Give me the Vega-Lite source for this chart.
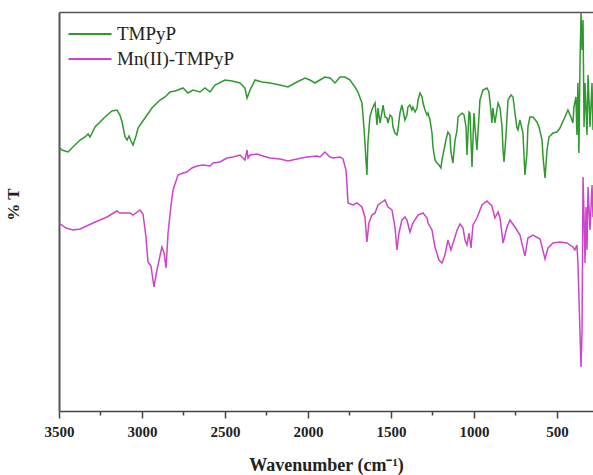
{
  "$schema": "https://vega.github.io/schema/vega-lite/v6.json",
  "width": 534,
  "height": 399,
  "autosize": {"type": "none"},
  "padding": {"left": 59, "top": 12, "right": 0, "bottom": 64},
  "background": "white",
  "config": {"view": {"stroke": null}, "font": "Liberation Serif"},
  "data": {"values": [
{"series":"TMPyP","wn":3500,"T":66},{"series":"TMPyP","wn":3482,"T":65.25},{"series":"TMPyP","wn":3446,"T":64.75},{"series":"TMPyP","wn":3410,"T":66.25},{"series":"TMPyP","wn":3373,"T":67.75},{"series":"TMPyP","wn":3343,"T":68.5},{"series":"TMPyP","wn":3325,"T":69.25},{"series":"TMPyP","wn":3313,"T":68.5},{"series":"TMPyP","wn":3283,"T":71},{"series":"TMPyP","wn":3253,"T":72.25},{"series":"TMPyP","wn":3223,"T":73.5},{"series":"TMPyP","wn":3181,"T":75},{"series":"TMPyP","wn":3151,"T":75.25},{"series":"TMPyP","wn":3133,"T":74},{"series":"TMPyP","wn":3120,"T":72.25},{"series":"TMPyP","wn":3102,"T":68.5},{"series":"TMPyP","wn":3090,"T":67.75},{"series":"TMPyP","wn":3078,"T":68.75},{"series":"TMPyP","wn":3066,"T":67.5},{"series":"TMPyP","wn":3054,"T":66.5},{"series":"TMPyP","wn":3036,"T":68.75},{"series":"TMPyP","wn":3024,"T":70.75},{"series":"TMPyP","wn":2982,"T":73.25},{"series":"TMPyP","wn":2940,"T":75.75},{"series":"TMPyP","wn":2916,"T":76.75},{"series":"TMPyP","wn":2892,"T":77.75},{"series":"TMPyP","wn":2861,"T":78.5},{"series":"TMPyP","wn":2831,"T":79.75},{"series":"TMPyP","wn":2801,"T":80},{"series":"TMPyP","wn":2783,"T":80.25},{"series":"TMPyP","wn":2753,"T":80.75},{"series":"TMPyP","wn":2723,"T":79.5},{"series":"TMPyP","wn":2693,"T":80.25},{"series":"TMPyP","wn":2651,"T":79.75},{"series":"TMPyP","wn":2620,"T":80.75},{"series":"TMPyP","wn":2590,"T":79.75},{"series":"TMPyP","wn":2560,"T":81.5},{"series":"TMPyP","wn":2500,"T":82.75},{"series":"TMPyP","wn":2458,"T":82.5},{"series":"TMPyP","wn":2410,"T":82},{"series":"TMPyP","wn":2380,"T":80.75},{"series":"TMPyP","wn":2367,"T":78.25},{"series":"TMPyP","wn":2349,"T":80.25},{"series":"TMPyP","wn":2319,"T":82.75},{"series":"TMPyP","wn":2277,"T":82.25},{"series":"TMPyP","wn":2229,"T":82},{"series":"TMPyP","wn":2169,"T":81.5},{"series":"TMPyP","wn":2120,"T":81},{"series":"TMPyP","wn":2078,"T":82},{"series":"TMPyP","wn":2018,"T":83.25},{"series":"TMPyP","wn":1988,"T":82.75},{"series":"TMPyP","wn":1958,"T":82},{"series":"TMPyP","wn":1928,"T":82.75},{"series":"TMPyP","wn":1898,"T":83.5},{"series":"TMPyP","wn":1867,"T":83.25},{"series":"TMPyP","wn":1837,"T":82},{"series":"TMPyP","wn":1807,"T":83.5},{"series":"TMPyP","wn":1777,"T":83.5},{"series":"TMPyP","wn":1747,"T":82.75},{"series":"TMPyP","wn":1717,"T":81},{"series":"TMPyP","wn":1699,"T":79.75},{"series":"TMPyP","wn":1675,"T":77},{"series":"TMPyP","wn":1663,"T":71},{"series":"TMPyP","wn":1645,"T":59},{"series":"TMPyP","wn":1639,"T":67},{"series":"TMPyP","wn":1627,"T":73.5},{"series":"TMPyP","wn":1615,"T":75.25},{"series":"TMPyP","wn":1608,"T":76},{"series":"TMPyP","wn":1596,"T":77},{"series":"TMPyP","wn":1584,"T":71.5},{"series":"TMPyP","wn":1578,"T":75.75},{"series":"TMPyP","wn":1566,"T":72},{"series":"TMPyP","wn":1554,"T":74.75},{"series":"TMPyP","wn":1548,"T":76.5},{"series":"TMPyP","wn":1536,"T":73.5},{"series":"TMPyP","wn":1524,"T":73.25},{"series":"TMPyP","wn":1518,"T":72},{"series":"TMPyP","wn":1506,"T":74},{"series":"TMPyP","wn":1494,"T":73.5},{"series":"TMPyP","wn":1488,"T":71},{"series":"TMPyP","wn":1476,"T":69.5},{"series":"TMPyP","wn":1464,"T":69},{"series":"TMPyP","wn":1458,"T":70.25},{"series":"TMPyP","wn":1446,"T":74.5},{"series":"TMPyP","wn":1434,"T":76.5},{"series":"TMPyP","wn":1428,"T":75.25},{"series":"TMPyP","wn":1416,"T":72.75},{"series":"TMPyP","wn":1404,"T":74},{"series":"TMPyP","wn":1398,"T":76},{"series":"TMPyP","wn":1386,"T":76.5},{"series":"TMPyP","wn":1374,"T":75.25},{"series":"TMPyP","wn":1368,"T":76},{"series":"TMPyP","wn":1355,"T":74.75},{"series":"TMPyP","wn":1343,"T":75.75},{"series":"TMPyP","wn":1337,"T":77.75},{"series":"TMPyP","wn":1325,"T":79.5},{"series":"TMPyP","wn":1313,"T":78.5},{"series":"TMPyP","wn":1307,"T":77},{"series":"TMPyP","wn":1295,"T":75.25},{"series":"TMPyP","wn":1283,"T":74},{"series":"TMPyP","wn":1277,"T":74.5},{"series":"TMPyP","wn":1265,"T":72.75},{"series":"TMPyP","wn":1253,"T":69.5},{"series":"TMPyP","wn":1247,"T":66},{"series":"TMPyP","wn":1235,"T":62.75},{"series":"TMPyP","wn":1223,"T":62},{"series":"TMPyP","wn":1211,"T":61.5},{"series":"TMPyP","wn":1199,"T":60.75},{"series":"TMPyP","wn":1193,"T":62.75},{"series":"TMPyP","wn":1181,"T":65.25},{"series":"TMPyP","wn":1169,"T":67.75},{"series":"TMPyP","wn":1157,"T":69.75},{"series":"TMPyP","wn":1145,"T":69},{"series":"TMPyP","wn":1139,"T":64.75},{"series":"TMPyP","wn":1127,"T":62},{"series":"TMPyP","wn":1114,"T":67.75},{"series":"TMPyP","wn":1102,"T":70.25},{"series":"TMPyP","wn":1096,"T":73.5},{"series":"TMPyP","wn":1072,"T":74.5},{"series":"TMPyP","wn":1060,"T":74},{"series":"TMPyP","wn":1048,"T":71},{"series":"TMPyP","wn":1042,"T":64},{"series":"TMPyP","wn":1030,"T":74.75},{"series":"TMPyP","wn":1024,"T":74.5},{"series":"TMPyP","wn":1012,"T":61},{"series":"TMPyP","wn":1000,"T":74.5},{"series":"TMPyP","wn":994,"T":71},{"series":"TMPyP","wn":982,"T":65.25},{"series":"TMPyP","wn":976,"T":69.5},{"series":"TMPyP","wn":964,"T":77.75},{"series":"TMPyP","wn":946,"T":80.25},{"series":"TMPyP","wn":922,"T":80.75},{"series":"TMPyP","wn":910,"T":79.75},{"series":"TMPyP","wn":898,"T":75.25},{"series":"TMPyP","wn":892,"T":72},{"series":"TMPyP","wn":886,"T":75.75},{"series":"TMPyP","wn":874,"T":72},{"series":"TMPyP","wn":855,"T":77},{"series":"TMPyP","wn":843,"T":75.75},{"series":"TMPyP","wn":831,"T":71},{"series":"TMPyP","wn":825,"T":65.25},{"series":"TMPyP","wn":819,"T":62.25},{"series":"TMPyP","wn":807,"T":69},{"series":"TMPyP","wn":795,"T":77.75},{"series":"TMPyP","wn":777,"T":79},{"series":"TMPyP","wn":765,"T":78.5},{"series":"TMPyP","wn":753,"T":74.5},{"series":"TMPyP","wn":741,"T":70.75},{"series":"TMPyP","wn":735,"T":70.25},{"series":"TMPyP","wn":723,"T":72.75},{"series":"TMPyP","wn":705,"T":69.5},{"series":"TMPyP","wn":693,"T":59},{"series":"TMPyP","wn":681,"T":64.5},{"series":"TMPyP","wn":675,"T":71},{"series":"TMPyP","wn":663,"T":73.5},{"series":"TMPyP","wn":645,"T":73.5},{"series":"TMPyP","wn":621,"T":72.25},{"series":"TMPyP","wn":608,"T":71},{"series":"TMPyP","wn":590,"T":67.75},{"series":"TMPyP","wn":584,"T":63.5},{"series":"TMPyP","wn":572,"T":58.25},{"series":"TMPyP","wn":560,"T":65.25},{"series":"TMPyP","wn":548,"T":68.5},{"series":"TMPyP","wn":524,"T":69.5},{"series":"TMPyP","wn":500,"T":69.75},{"series":"TMPyP","wn":482,"T":70.75},{"series":"TMPyP","wn":452,"T":73.5},{"series":"TMPyP","wn":434,"T":75.25},{"series":"TMPyP","wn":416,"T":73.5},{"series":"TMPyP","wn":404,"T":72},{"series":"TMPyP","wn":398,"T":76},{"series":"TMPyP","wn":386,"T":78.5},{"series":"TMPyP","wn":380,"T":69},{"series":"TMPyP","wn":374,"T":82},{"series":"TMPyP","wn":368,"T":64.5},{"series":"TMPyP","wn":361,"T":87.75},{"series":"TMPyP","wn":355,"T":99.5},{"series":"TMPyP","wn":349,"T":90.25},{"series":"TMPyP","wn":343,"T":97.75},{"series":"TMPyP","wn":337,"T":71},{"series":"TMPyP","wn":331,"T":82},{"series":"TMPyP","wn":319,"T":69},{"series":"TMPyP","wn":313,"T":84},{"series":"TMPyP","wn":301,"T":71},{"series":"TMPyP","wn":289,"T":82},{"series":"TMPyP","wn":283,"T":70.25},
{"series":"Mn(II)-TMPyP","wn":3500,"T":47},{"series":"Mn(II)-TMPyP","wn":3458,"T":45.75},{"series":"Mn(II)-TMPyP","wn":3416,"T":45.25},{"series":"Mn(II)-TMPyP","wn":3373,"T":45.5},{"series":"Mn(II)-TMPyP","wn":3295,"T":47},{"series":"Mn(II)-TMPyP","wn":3211,"T":48.5},{"series":"Mn(II)-TMPyP","wn":3151,"T":50},{"series":"Mn(II)-TMPyP","wn":3133,"T":49.5},{"series":"Mn(II)-TMPyP","wn":3072,"T":49.5},{"series":"Mn(II)-TMPyP","wn":3054,"T":49},{"series":"Mn(II)-TMPyP","wn":3012,"T":50.25},{"series":"Mn(II)-TMPyP","wn":2994,"T":49.25},{"series":"Mn(II)-TMPyP","wn":2976,"T":43.5},{"series":"Mn(II)-TMPyP","wn":2964,"T":37.25},{"series":"Mn(II)-TMPyP","wn":2946,"T":36.25},{"series":"Mn(II)-TMPyP","wn":2928,"T":31},{"series":"Mn(II)-TMPyP","wn":2910,"T":35.25},{"series":"Mn(II)-TMPyP","wn":2880,"T":41},{"series":"Mn(II)-TMPyP","wn":2867,"T":39.5},{"series":"Mn(II)-TMPyP","wn":2855,"T":35.75},{"series":"Mn(II)-TMPyP","wn":2843,"T":44.5},{"series":"Mn(II)-TMPyP","wn":2825,"T":51.5},{"series":"Mn(II)-TMPyP","wn":2813,"T":55.25},{"series":"Mn(II)-TMPyP","wn":2783,"T":59},{"series":"Mn(II)-TMPyP","wn":2753,"T":59.5},{"series":"Mn(II)-TMPyP","wn":2729,"T":59.75},{"series":"Mn(II)-TMPyP","wn":2699,"T":60.75},{"series":"Mn(II)-TMPyP","wn":2669,"T":61.25},{"series":"Mn(II)-TMPyP","wn":2633,"T":61.5},{"series":"Mn(II)-TMPyP","wn":2590,"T":61.25},{"series":"Mn(II)-TMPyP","wn":2572,"T":62},{"series":"Mn(II)-TMPyP","wn":2530,"T":62.25},{"series":"Mn(II)-TMPyP","wn":2488,"T":63.25},{"series":"Mn(II)-TMPyP","wn":2452,"T":63.5},{"series":"Mn(II)-TMPyP","wn":2410,"T":64},{"series":"Mn(II)-TMPyP","wn":2380,"T":62.75},{"series":"Mn(II)-TMPyP","wn":2367,"T":65.25},{"series":"Mn(II)-TMPyP","wn":2361,"T":63.25},{"series":"Mn(II)-TMPyP","wn":2349,"T":64},{"series":"Mn(II)-TMPyP","wn":2307,"T":64.25},{"series":"Mn(II)-TMPyP","wn":2271,"T":63.75},{"series":"Mn(II)-TMPyP","wn":2229,"T":63.25},{"series":"Mn(II)-TMPyP","wn":2169,"T":63},{"series":"Mn(II)-TMPyP","wn":2120,"T":62.5},{"series":"Mn(II)-TMPyP","wn":2066,"T":63},{"series":"Mn(II)-TMPyP","wn":2006,"T":63.5},{"series":"Mn(II)-TMPyP","wn":1946,"T":63.75},{"series":"Mn(II)-TMPyP","wn":1928,"T":63.5},{"series":"Mn(II)-TMPyP","wn":1898,"T":64.75},{"series":"Mn(II)-TMPyP","wn":1867,"T":63.5},{"series":"Mn(II)-TMPyP","wn":1849,"T":63.25},{"series":"Mn(II)-TMPyP","wn":1807,"T":63.5},{"series":"Mn(II)-TMPyP","wn":1789,"T":63},{"series":"Mn(II)-TMPyP","wn":1771,"T":60.25},{"series":"Mn(II)-TMPyP","wn":1765,"T":56.5},{"series":"Mn(II)-TMPyP","wn":1759,"T":52},{"series":"Mn(II)-TMPyP","wn":1729,"T":51.5},{"series":"Mn(II)-TMPyP","wn":1705,"T":52},{"series":"Mn(II)-TMPyP","wn":1675,"T":51},{"series":"Mn(II)-TMPyP","wn":1657,"T":48.5},{"series":"Mn(II)-TMPyP","wn":1645,"T":42.25},{"series":"Mn(II)-TMPyP","wn":1633,"T":47},{"series":"Mn(II)-TMPyP","wn":1615,"T":49},{"series":"Mn(II)-TMPyP","wn":1596,"T":49.5},{"series":"Mn(II)-TMPyP","wn":1578,"T":51.5},{"series":"Mn(II)-TMPyP","wn":1554,"T":52.25},{"series":"Mn(II)-TMPyP","wn":1536,"T":52.75},{"series":"Mn(II)-TMPyP","wn":1518,"T":51},{"series":"Mn(II)-TMPyP","wn":1494,"T":50.25},{"series":"Mn(II)-TMPyP","wn":1476,"T":46},{"series":"Mn(II)-TMPyP","wn":1464,"T":40.25},{"series":"Mn(II)-TMPyP","wn":1452,"T":44.5},{"series":"Mn(II)-TMPyP","wn":1434,"T":47.75},{"series":"Mn(II)-TMPyP","wn":1416,"T":48.5},{"series":"Mn(II)-TMPyP","wn":1404,"T":47.75},{"series":"Mn(II)-TMPyP","wn":1386,"T":44.75},{"series":"Mn(II)-TMPyP","wn":1368,"T":47},{"series":"Mn(II)-TMPyP","wn":1337,"T":49},{"series":"Mn(II)-TMPyP","wn":1307,"T":49.5},{"series":"Mn(II)-TMPyP","wn":1283,"T":48.25},{"series":"Mn(II)-TMPyP","wn":1277,"T":47},{"series":"Mn(II)-TMPyP","wn":1253,"T":45.25},{"series":"Mn(II)-TMPyP","wn":1235,"T":41},{"series":"Mn(II)-TMPyP","wn":1211,"T":37.75},{"series":"Mn(II)-TMPyP","wn":1193,"T":37},{"series":"Mn(II)-TMPyP","wn":1175,"T":39},{"series":"Mn(II)-TMPyP","wn":1157,"T":42.75},{"series":"Mn(II)-TMPyP","wn":1139,"T":40.25},{"series":"Mn(II)-TMPyP","wn":1120,"T":42.75},{"series":"Mn(II)-TMPyP","wn":1102,"T":45.25},{"series":"Mn(II)-TMPyP","wn":1084,"T":46.75},{"series":"Mn(II)-TMPyP","wn":1066,"T":45.75},{"series":"Mn(II)-TMPyP","wn":1054,"T":42.75},{"series":"Mn(II)-TMPyP","wn":1042,"T":41.5},{"series":"Mn(II)-TMPyP","wn":1030,"T":44.5},{"series":"Mn(II)-TMPyP","wn":1018,"T":40.75},{"series":"Mn(II)-TMPyP","wn":1006,"T":46.5},{"series":"Mn(II)-TMPyP","wn":982,"T":48.25},{"series":"Mn(II)-TMPyP","wn":952,"T":51.5},{"series":"Mn(II)-TMPyP","wn":922,"T":52.5},{"series":"Mn(II)-TMPyP","wn":892,"T":51.25},{"series":"Mn(II)-TMPyP","wn":874,"T":48.25},{"series":"Mn(II)-TMPyP","wn":855,"T":49.75},{"series":"Mn(II)-TMPyP","wn":843,"T":48.25},{"series":"Mn(II)-TMPyP","wn":825,"T":42},{"series":"Mn(II)-TMPyP","wn":801,"T":46},{"series":"Mn(II)-TMPyP","wn":783,"T":47.75},{"series":"Mn(II)-TMPyP","wn":753,"T":46},{"series":"Mn(II)-TMPyP","wn":723,"T":44},{"series":"Mn(II)-TMPyP","wn":693,"T":38.75},{"series":"Mn(II)-TMPyP","wn":675,"T":43.25},{"series":"Mn(II)-TMPyP","wn":645,"T":44},{"series":"Mn(II)-TMPyP","wn":602,"T":43},{"series":"Mn(II)-TMPyP","wn":572,"T":38},{"series":"Mn(II)-TMPyP","wn":554,"T":40.75},{"series":"Mn(II)-TMPyP","wn":524,"T":42},{"series":"Mn(II)-TMPyP","wn":482,"T":42.25},{"series":"Mn(II)-TMPyP","wn":440,"T":42},{"series":"Mn(II)-TMPyP","wn":404,"T":41},{"series":"Mn(II)-TMPyP","wn":392,"T":40.25},{"series":"Mn(II)-TMPyP","wn":380,"T":41.5},{"series":"Mn(II)-TMPyP","wn":374,"T":37.25},{"series":"Mn(II)-TMPyP","wn":368,"T":29},{"series":"Mn(II)-TMPyP","wn":361,"T":19},{"series":"Mn(II)-TMPyP","wn":355,"T":11},{"series":"Mn(II)-TMPyP","wn":349,"T":20.25},{"series":"Mn(II)-TMPyP","wn":343,"T":58.5},{"series":"Mn(II)-TMPyP","wn":337,"T":48.5},{"series":"Mn(II)-TMPyP","wn":331,"T":37},{"series":"Mn(II)-TMPyP","wn":325,"T":51},{"series":"Mn(II)-TMPyP","wn":319,"T":40.25},{"series":"Mn(II)-TMPyP","wn":313,"T":56},{"series":"Mn(II)-TMPyP","wn":301,"T":45.25},{"series":"Mn(II)-TMPyP","wn":289,"T":56.5},{"series":"Mn(II)-TMPyP","wn":283,"T":48.5}
  ]},
  "resolve": {"axis": {"x": "independent"}},
  "layer": [
    {
      "transform": [{"filter": "datum.series === 'TMPyP'"}],
      "mark": {"type": "line", "strokeWidth": 1.5},
      "encoding": {
        "x": {
          "field": "wn", "type": "quantitative",
          "scale": {"domain": [283, 3500], "reverse": true, "nice": false, "zero": false},
          "axis": {
            "orient": "bottom",
            "values": [3500, 3250, 3000, 2750, 2500, 2250, 2000, 1750, 1500, 1250, 1000, 750, 500],
            "format": "d",
            "labelExpr": "datum.value % 500 === 0 ? datum.label : ''",
            "tickSize": {"condition": {"test": "datum.value % 500 === 0", "value": 7}, "value": 4},
            "labelFlush": false,
            "labelFont": "Liberation Serif", "labelFontSize": 15, "labelFontWeight": "bold", "labelColor": "#222",
            "labelPadding": 6,
            "domainColor": "#444", "domainWidth": 1.5, "tickColor": "#444", "tickWidth": 1.5,
            "grid": false,
            "title": "Wavenumber (cm⁻¹)",
            "titleFont": "Liberation Serif", "titleFontSize": 18, "titleFontWeight": "bold", "titleColor": "#222",
            "titlePadding": 17
          }
        },
        "y": {
          "field": "T", "type": "quantitative",
          "scale": {"domain": [0, 99.75], "nice": false, "zero": false},
          "axis": {
            "orient": "left", "ticks": false, "labels": false, "grid": false,
            "domainColor": "#555", "domainWidth": 2,
            "title": "% T", "titleFont": "Liberation Serif", "titleFontSize": 17, "titleFontWeight": "bold", "titleColor": "#222",
            "titlePadding": 37, "titleY": 192
          }
        },
        "color": {
          "field": "series", "type": "nominal",
          "scale": {"domain": ["TMPyP", "Mn(II)-TMPyP"], "range": ["#2e9a2e", "#cc44cc"]},
          "legend": {
            "orient": "none", "legendX": 19, "legendY": 10, "title": null, "padding": 0,
            "symbolType": "M-2,0H2", "symbolSize": 462, "symbolStrokeWidth": 2, "rowPadding": 3,
            "labelFont": "Liberation Serif", "labelFontSize": 19, "labelColor": "#222", "labelOffset": 15
          }
        }
      }
    },
    {
      "transform": [{"filter": "datum.series === 'Mn(II)-TMPyP'"}],
      "mark": {"type": "line", "strokeWidth": 1.5},
      "encoding": {
        "x": {
          "field": "wn", "type": "quantitative",
          "axis": {"orient": "top", "ticks": false, "labels": false, "title": null, "grid": false, "domainColor": "#555", "domainWidth": 1.5}
        },
        "y": {"field": "T", "type": "quantitative"},
        "color": {"field": "series", "type": "nominal"}
      }
    }
  ]
}
